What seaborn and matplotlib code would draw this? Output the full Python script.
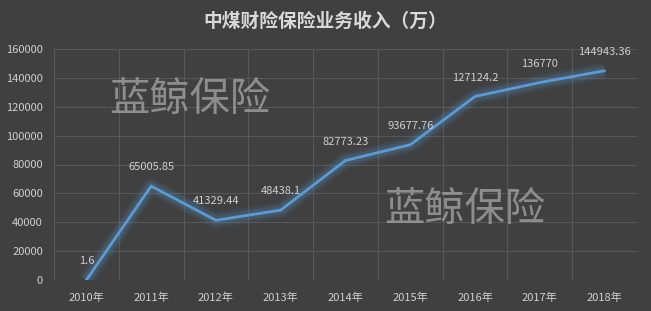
import matplotlib
matplotlib.use("Agg")
import matplotlib.pyplot as plt
import seaborn as sns
import pandas as pd
import numpy as np

years = ["2010年", "2011年", "2012年", "2013年", "2014年", "2015年", "2016年", "2017年", "2018年"]
income = [1.6, 65005.85, 41329.44, 48438.1, 82773.23, 93677.76, 127124.2, 136770, 144943.36]
labels = ["1.6", "65005.85", "41329.44", "48438.1", "82773.23", "93677.76", "127124.2", "136770", "144943.36"]
y_ticks = [0, 20000, 40000, 60000, 80000, 100000, 120000, 140000, 160000]

bg = "#404040"
grid = "#575757"
txt = "#cfcfcf"
line_c = "#5b9bd5"

sns.set_theme(style="dark")
plt.rcParams["font.family"] = ["Noto Sans CJK SC", "DejaVu Sans"]

df = pd.DataFrame({"idx": np.arange(len(years)), "income": income})

fig = plt.figure(figsize=(6.51, 3.11), dpi=100, facecolor=bg)
ax = fig.add_axes([54 / 651, 1 - 280 / 311, (637 - 54) / 651, (280 - 49) / 311])
ax.set_facecolor(bg)

# soft glow under the main line
for lw, a in [(12, 0.05), (10, 0.06), (8, 0.08), (6, 0.12)]:
    sns.lineplot(data=df, x="idx", y="income", ax=ax, color=line_c, linewidth=lw,
                 alpha=a, solid_capstyle="butt", solid_joinstyle="round", legend=False)
sns.lineplot(data=df, x="idx", y="income", ax=ax, color=line_c, linewidth=2,
             solid_joinstyle="miter", legend=False)

for i, (v, s) in enumerate(zip(income, labels)):
    ax.annotate(s, (i, v), xytext=(0, 10), textcoords="offset points",
                ha="center", va="bottom", fontsize=8, color=txt)

ax.set_xlim(-0.5, len(years) - 0.5)
ax.set_ylim(0, 160000)
ax.set_yticks(y_ticks)
ax.set_yticklabels([str(t) for t in y_ticks], fontsize=8, color=txt)
ax.set_xticks(np.arange(len(years)))
ax.set_xticklabels(years, fontsize=8, color=txt)
ax.set_xticks(np.arange(len(years) + 1) - 0.5, minor=True)
ax.tick_params(axis="y", which="both", length=0, pad=8)
ax.tick_params(axis="x", which="both", length=0, pad=9)
ax.grid(False)
ax.grid(True, axis="y", which="major", color=grid, linewidth=0.8)
ax.grid(True, axis="x", which="minor", color=grid, linewidth=0.8)
ax.set_xlabel("")
ax.set_ylabel("")
for s in ax.spines.values():
    s.set_visible(False)

fig.text(0.5, 1 - 21 / 311, "中煤财险保险业务收入（万）", ha="center", va="center",
         fontsize=13.5, fontweight="bold", color="#d9d9d9")

# watermarks
fig.text(109 / 651, 1 - 100 / 311, "蓝鲸保险", ha="left", va="center", fontsize=29,
         color="#a8a8a8", alpha=0.75)
fig.text(384 / 651, 1 - 210 / 311, "蓝鲸保险", ha="left", va="center", fontsize=29,
         color="#a8a8a8", alpha=0.75)

fig.savefig("out.png", dpi=100, facecolor=bg)
